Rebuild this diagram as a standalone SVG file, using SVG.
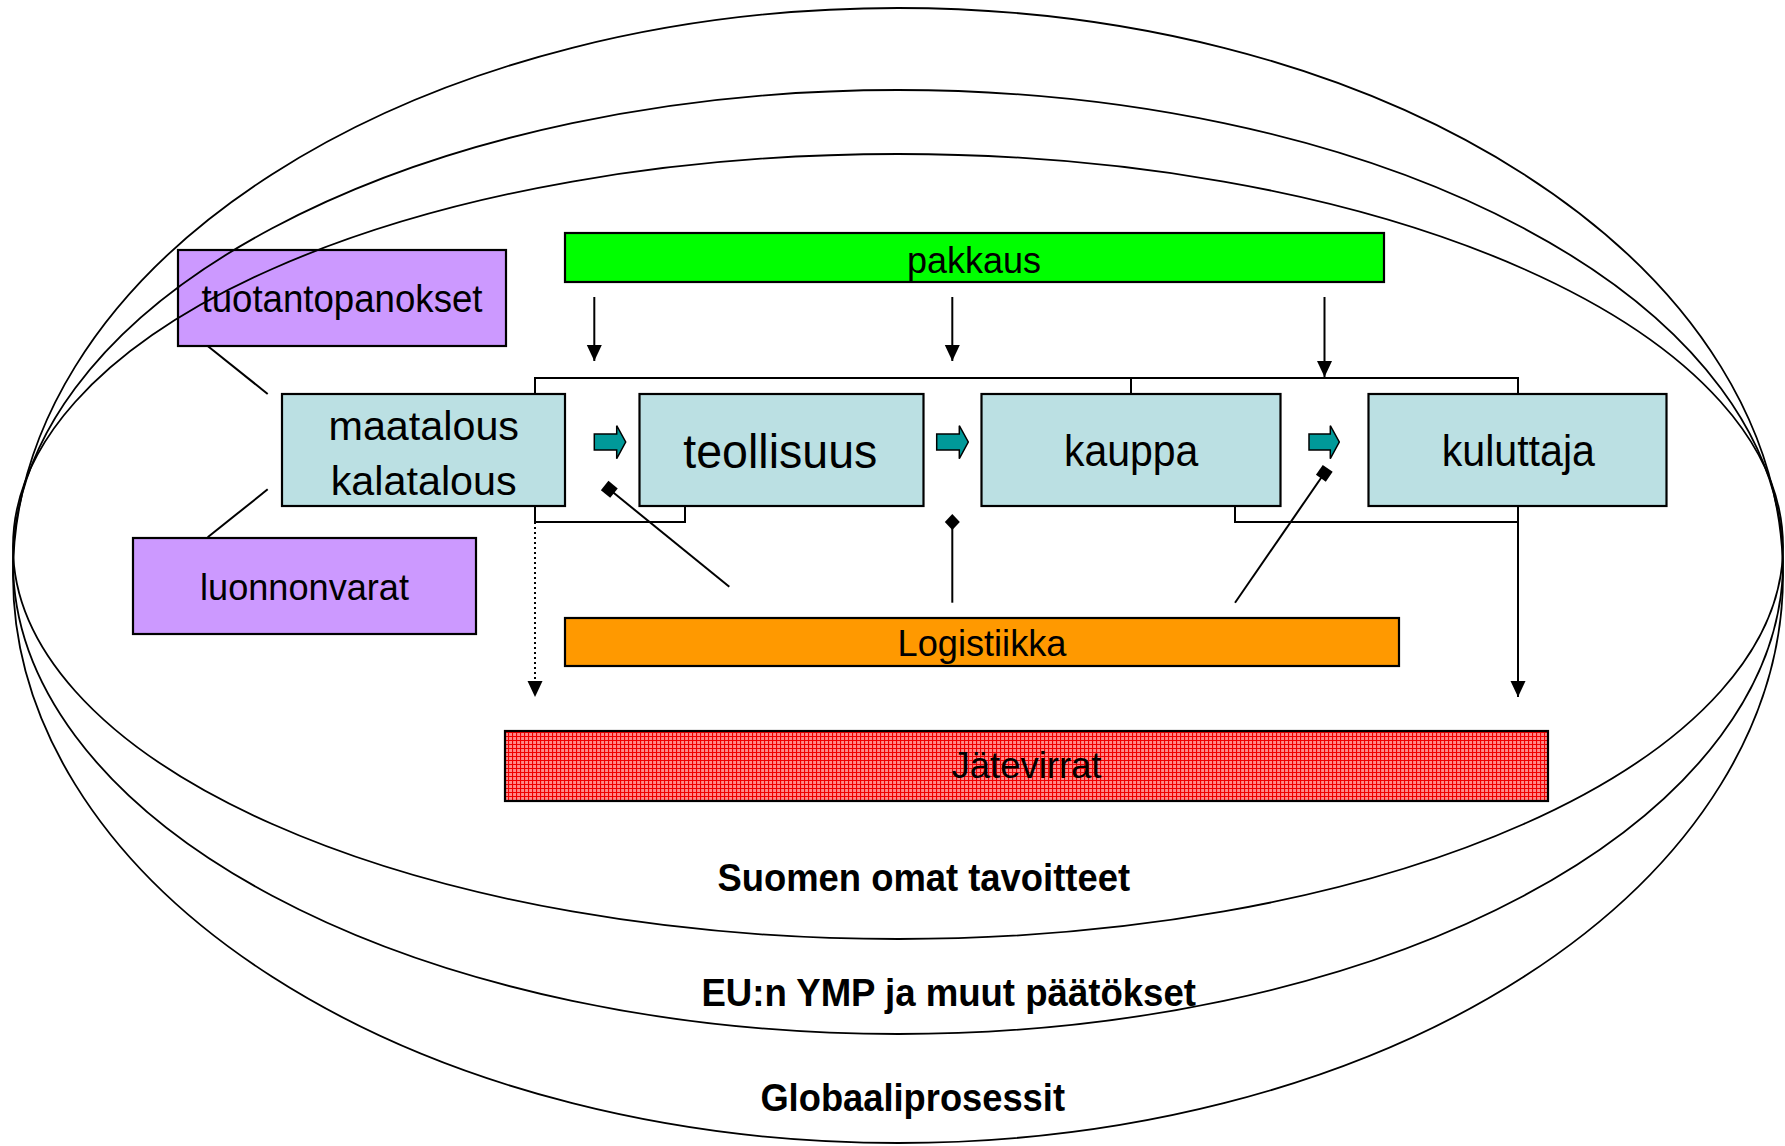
<svg xmlns="http://www.w3.org/2000/svg" width="1785" height="1146" viewBox="0 0 1785 1146">
<defs>
<style>
.box{stroke:#000;stroke-width:2.2}
.purple{fill:#CC99FF}
.blue{fill:#BBE0E3}
.lbl{font-family:"Liberation Sans",Arial,sans-serif;fill:#000;text-anchor:start}
.bold{font-family:"Liberation Sans",Arial,sans-serif;font-weight:bold;fill:#000}
.ell{fill:none;stroke:#000;stroke-width:1.8}
.con{fill:none;stroke:#000;stroke-width:2}
.teal{fill:#009999;stroke:#000;stroke-width:1.5}
</style>
<pattern id="grid" width="4" height="4" patternUnits="userSpaceOnUse">
<rect width="4" height="4" fill="#FF8A8A"/>
<path d="M0,0.5H4M0.5,0V4" stroke="#F00000" stroke-width="1.2"/>
</pattern>
<marker id="arr" markerUnits="userSpaceOnUse" markerWidth="16" markerHeight="16" viewBox="0 0 16 16" refX="16" refY="8" orient="auto">
<path d="M0,0.5L16,8L0,15.5z" fill="#000"/>
</marker>
<marker id="sq" markerUnits="userSpaceOnUse" markerWidth="14" markerHeight="14" viewBox="0 0 14 14" refX="7" refY="7" orient="auto">
<rect x="1" y="1" width="12" height="12" fill="#000"/>
</marker>
<marker id="dia" markerUnits="userSpaceOnUse" markerWidth="18" markerHeight="18" viewBox="0 0 18 18" refX="9" refY="9" orient="auto">
<path d="M1,9L9,1.5L17,9L9,16.5z" fill="#000"/>
</marker>
</defs>
<rect width="1785" height="1146" fill="#fff"/>

<g id="tuotantopanokset">
<rect class="box purple" x="178" y="250" width="328" height="96"/>
<text class="lbl" x="201.5" y="311.5" font-size="38" textLength="281" lengthAdjust="spacingAndGlyphs">tuotantopanokset</text>
</g>

<g id="ellipses">
<ellipse class="ell" cx="898" cy="575.5" rx="885" ry="567.5"/>
<ellipse class="ell" cx="898" cy="562" rx="885" ry="472"/>
<ellipse class="ell" cx="898" cy="546.5" rx="885" ry="392.5"/>
</g>

<g id="luonnonvarat">
<rect class="box purple" x="133" y="538" width="343" height="96"/>
<text class="lbl" x="200" y="600" font-size="37" textLength="209" lengthAdjust="spacingAndGlyphs">luonnonvarat</text>
</g>

<g id="pakkaus">
<rect class="box" fill="#00FF00" x="565" y="233" width="819" height="49"/>
<text class="lbl" x="907" y="272.5" font-size="37" textLength="134" lengthAdjust="spacingAndGlyphs">pakkaus</text>
</g>

<g id="logistiikka">
<rect class="box" fill="#FF9900" x="565" y="618" width="834" height="48"/>
<text class="lbl" x="897.5" y="656" font-size="37" textLength="169" lengthAdjust="spacingAndGlyphs">Logistiikka</text>
</g>

<g id="jatevirrat">
<rect class="box" fill="url(#grid)" x="505" y="731" width="1043" height="70"/>
<text class="lbl" x="951.5" y="778" font-size="37" textLength="150" lengthAdjust="spacingAndGlyphs">Jätevirrat</text>
</g>

<g id="connectors">
<path class="con" d="M535,394V378H1518V394M1131,378V394"/>
<path class="con" d="M535,506V522H685V506"/>
<path class="con" d="M1235,506V522H1518"/>
<path class="con" d="M1518,506V697" marker-end="url(#arr)"/>
<path class="con" d="M535,522V697" stroke-dasharray="2,3" marker-end="url(#arr)"/>
<path class="con" d="M594.3,297V361" marker-end="url(#arr)"/>
<path class="con" d="M952.3,297V361" marker-end="url(#arr)"/>
<path class="con" d="M1324.5,297V377" marker-end="url(#arr)"/>
<path class="con" d="M207.7,346L267.7,394"/>
<path class="con" d="M267.7,489.3L207.7,537.3"/>
<path class="con" d="M729.3,586.7L609.3,489.3" marker-end="url(#sq)"/>
<path class="con" d="M952.3,602.7V522" marker-end="url(#dia)"/>
<path class="con" d="M1235,602.7L1324.3,473.3" marker-end="url(#sq)"/>
<path class="teal" d="M594.3,434H616.7V425.7L625.7,442L616.7,458.7V450H594.3z"/>
<path class="teal" d="M936.7,434H959.3V425.7L968.3,442L959.3,458.7V450H936.7z"/>
<path class="teal" d="M1309,434H1330.3V425.7L1339.3,442L1330.3,458.7V450H1309z"/>
</g>

<g id="maatalous">
<rect class="box blue" x="282" y="394" width="283" height="112"/>
<text class="lbl" x="328.5" y="440" font-size="40" textLength="190.5" lengthAdjust="spacingAndGlyphs">maatalous</text>
<text class="lbl" x="330.7" y="495" font-size="40" textLength="186" lengthAdjust="spacingAndGlyphs">kalatalous</text>
</g>

<g id="teollisuus">
<rect class="box blue" x="639.5" y="394" width="284" height="112"/>
<text class="lbl" x="683.3" y="468.3" font-size="49" textLength="194" lengthAdjust="spacingAndGlyphs">teollisuus</text>
</g>

<g id="kauppa">
<rect class="box blue" x="981.5" y="394" width="299" height="112"/>
<text class="lbl" x="1064" y="466" font-size="44" textLength="134.3" lengthAdjust="spacingAndGlyphs">kauppa</text>
</g>

<g id="kuluttaja">
<rect class="box blue" x="1368.5" y="394" width="298" height="112"/>
<text class="lbl" x="1441.7" y="466" font-size="44" textLength="153.3" lengthAdjust="spacingAndGlyphs">kuluttaja</text>
</g>

<g id="labels">
<text class="bold" x="717.5" y="890.7" font-size="38" textLength="412.5" lengthAdjust="spacingAndGlyphs">Suomen omat tavoitteet</text>
<text class="bold" x="701.4" y="1005.7" font-size="38" textLength="494.6" lengthAdjust="spacingAndGlyphs">EU:n YMP ja muut päätökset</text>
<text class="bold" x="760.4" y="1110.7" font-size="38" textLength="304.6" lengthAdjust="spacingAndGlyphs">Globaaliprosessit</text>
</g>
</svg>
